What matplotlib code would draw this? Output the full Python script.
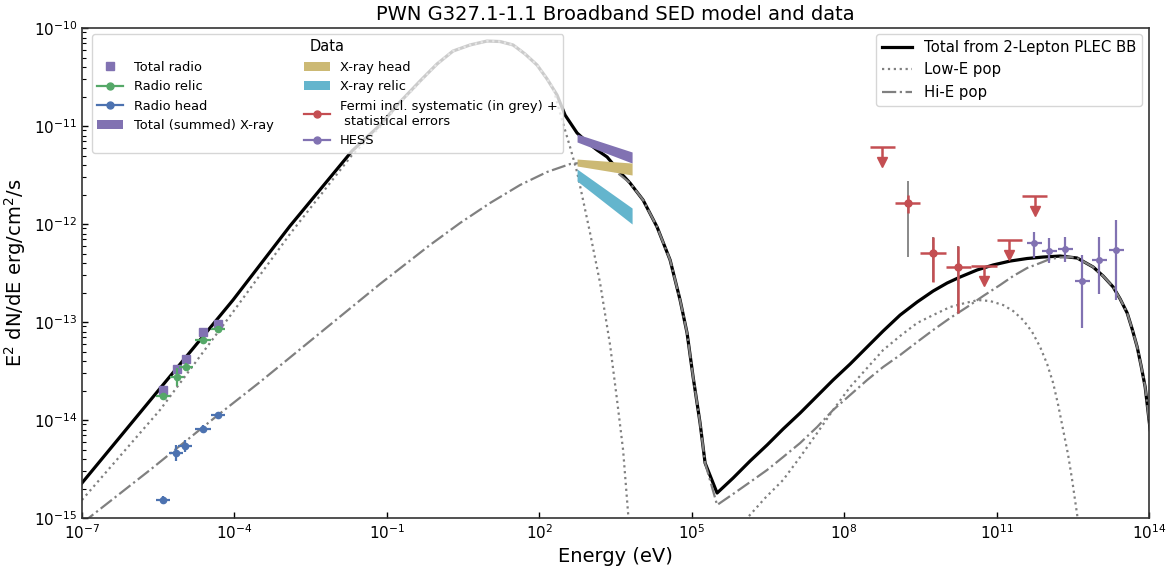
import numpy as np
import matplotlib
matplotlib.use("Agg")
import matplotlib.pyplot as plt
from matplotlib.lines import Line2D
from matplotlib.patches import Patch
from matplotlib.ticker import FixedLocator, NullLocator, LogLocator

# ---------------- model curves: log10(E/eV), log10(E^2 dN/dE / erg cm^-2 s^-1)
total_logE = [-7.0, -4.028, -2.906, -1.685, -1.134, -0.740, -0.346, -0.012, 0.303,
              0.638, 0.972, 1.228, 1.484, 1.720, 1.957, 2.154, 2.350, 2.508, 2.744,
              2.961, 3.138, 3.335, 3.551, 3.787, 4.043, 4.319, 4.575, 4.772, 4.909,
              5.028, 5.165, 5.264, 5.5, 5.815, 6.150, 6.484, 6.799, 7.134, 7.469,
              7.783, 8.118, 8.453, 8.768, 9.102, 9.437, 9.752, 10.028, 10.283,
              10.618, 10.933, 11.268, 11.602, 11.917, 12.252, 12.587, 12.902,
              13.098, 13.295, 13.433, 13.571, 13.669, 13.768, 13.846, 13.925,
              14.024, 14.22]
total_logF = [-14.643, -12.776, -12.020, -11.255, -10.990, -10.755, -10.541, -10.367,
              -10.235, -10.173, -10.133, -10.138, -10.173, -10.265, -10.378, -10.520,
              -10.684, -10.888, -11.071, -11.173, -11.245, -11.316, -11.449, -11.582,
              -11.755, -12.031, -12.367, -12.776, -13.112, -13.561, -14.031, -14.439,
              -14.745, -14.592, -14.418, -14.255, -14.092, -13.929, -13.755, -13.592,
              -13.429, -13.255, -13.092, -12.929, -12.796, -12.684, -12.602, -12.541,
              -12.469, -12.418, -12.378, -12.352, -12.337, -12.327, -12.347, -12.439,
              -12.531, -12.643, -12.765, -12.908, -13.071, -13.255, -13.449, -13.663,
              -14.102, -14.61]

lowE_logE = [-7.0, -5.465, -4.028, -2.906, -1.685, -1.134, -0.740, -0.346, -0.012,
             0.303, 0.638, 0.972, 1.228, 1.484, 1.720, 1.957, 2.154, 2.272, 2.449,
             2.606, 2.744, 2.862, 3.0, 3.197, 3.394, 3.531, 3.650, 3.748, 3.827,
             5.953, 6.110, 6.445, 6.799, 7.134, 7.469, 7.783, 8.118, 8.453, 8.768,
             9.102, 9.437, 9.752, 10.087, 10.382, 10.638, 10.874, 11.130, 11.327,
             11.524, 11.701, 11.858, 11.996, 12.114, 12.213, 12.311, 12.409, 12.488,
             12.587, 12.646]
lowE_logF = [-14.816, -13.898, -12.898, -12.102, -11.296, -11.010, -10.765, -10.551,
             -10.367, -10.235, -10.173, -10.133, -10.138, -10.173, -10.265, -10.378,
             -10.520, -10.612, -10.939, -11.214, -11.469, -11.755, -12.092, -12.602,
             -13.235, -13.796, -14.306, -14.949, -15.429,
             -15.122, -14.990, -14.796, -14.612, -14.378, -14.133, -13.898, -13.663,
             -13.469, -13.286, -13.143, -13.010, -12.929, -12.847, -12.806, -12.776,
             -12.786, -12.827, -12.888, -12.980, -13.102, -13.255, -13.429, -13.622,
             -13.847, -14.102, -14.357, -14.612, -14.969, -15.224]

hiE_logE = [-7.0, -6.843, -5.661, -4.323, -3.496, -2.315, -1.134, -0.150, 0.441,
            1.031, 1.622, 2.154, 2.606, 3.0, 3.394, 3.787, 4.043, 4.319, 4.575,
            4.772, 4.909, 5.028, 5.165, 5.264, 5.5, 5.815, 6.150, 6.484, 6.799,
            7.134, 7.469, 7.783, 8.118, 8.453, 8.768, 9.102, 9.437, 9.752, 10.087,
            10.421, 10.736, 11.071, 11.327, 11.602, 11.858, 12.055, 12.252, 12.449,
            12.587, 12.902, 13.098, 13.295, 13.433, 13.571, 13.669, 13.768, 13.846,
            13.925, 14.024, 14.22]
hiE_logF = [-15.05, -14.990, -14.510, -13.949, -13.612, -13.112, -12.612, -12.214,
            -11.990, -11.786, -11.602, -11.469, -11.388, -11.367, -11.418, -11.582,
            -11.755, -12.031, -12.367, -12.776, -13.112, -13.561, -14.031, -14.439,
            -14.867, -14.755, -14.633, -14.510, -14.378, -14.235, -14.071, -13.898,
            -13.745, -13.592, -13.459, -13.337, -13.204, -13.082, -12.959, -12.847,
            -12.735, -12.622, -12.531, -12.449, -12.398, -12.357, -12.342, -12.337,
            -12.347, -12.439, -12.531, -12.643, -12.765, -12.908, -13.071, -13.255,
            -13.449, -13.663, -14.102, -14.61]

# ---------------- radio data
radio_total_logE = [-5.406, -5.130, -4.953, -4.618, -4.323]
radio_total_logF = [-13.694, -13.480, -13.378, -13.102, -13.020]

relic_logE = [-5.406, -5.130, -4.953, -4.618, -4.323]
relic_logF = [-13.755, -13.561, -13.459, -13.184, -13.071]
relic_dlogF = [0.03, 0.09, 0.04, 0.03, 0.03]

head_logE = [-5.406, -5.150, -4.972, -4.618, -4.323]
head_logF = [-14.816, -14.337, -14.265, -14.092, -13.949]
head_dlogF = [0.04, 0.08, 0.06, 0.04, 0.03]

radio_dlogE = [0.14, 0.14, 0.14, 0.15, 0.14]

# ---------------- X-ray bands (edges at band limits)
xray_logE = [2.744, 3.827]
xray_total_lo = [-11.163, -11.378]
xray_total_hi = [-11.082, -11.265]
xray_head_lo = [-11.408, -11.500]
xray_head_hi = [-11.337, -11.378]
xray_relic_lo = [-11.561, -12.000]
xray_relic_hi = [-11.439, -11.837]

# ---------------- Fermi
fermi_logE = [9.25, 9.75, 10.25]
fermi_logF = [-11.786, -12.296, -12.439]
fermi_stat_lo = [-11.888, -12.592, -12.908]
fermi_stat_hi = [-11.704, -12.133, -12.224]
fermi_sys_lo = [-12.337, -12.592, -12.908]
fermi_sys_hi = [-11.561, -12.133, -12.224]
fermi_ul_logE = [8.75, 10.75, 11.25, 11.75]
fermi_ul_logF = [-11.214, -12.429, -12.163, -11.714]
fermi_dlogE = 0.25

# ---------------- HESS
hess_logE = [11.740, 12.035, 12.350, 12.685, 13.020, 13.354]
hess_logF = [-12.194, -12.276, -12.255, -12.582, -12.367, -12.265]
hess_lo = [-12.347, -12.398, -12.388, -13.061, -12.714, -12.776]
hess_hi = [-12.082, -12.143, -12.133, -12.316, -12.133, -11.959]
hess_dlogE = 0.15

# ---------------- colours
c_blue = "#4C72B0"
c_green = "#55A868"
c_red = "#C44E52"
c_purple = "#8172B2"
c_yellow = "#CCB974"
c_cyan = "#64B5CD"


def p(a):
    return 10.0 ** np.asarray(a, dtype=float)


def xerr_from_dex(logE, dlog):
    E = p(logE)
    d = np.broadcast_to(np.asarray(dlog, dtype=float), E.shape)
    return np.vstack([E - E / 10 ** d, E * 10 ** d - E])


def yerr_from_bounds(logF, lo, hi):
    F = p(logF)
    return np.vstack([F - p(lo), p(hi) - F])


fig = plt.figure(figsize=(11.66, 5.67), dpi=100)
ax = fig.add_axes([0.0703, 0.0864, 0.9151, 0.8642])
ax.set_xscale("log")
ax.set_yscale("log")

# models
l_tot, = ax.plot(p(total_logE), p(total_logF), color="black", lw=2.3)
l_low, = ax.plot(p(lowE_logE), p(lowE_logF), color="grey", ls=":", lw=1.6)
l_hi, = ax.plot(p(hiE_logE), p(hiE_logF), color="grey", ls="-.", lw=1.6)

# radio
ax.plot(p(radio_total_logE), p(radio_total_logF), "s", color=c_purple, ms=5.5, zorder=3)
for lE, lF, dF, col in [(relic_logE, relic_logF, relic_dlogF, c_green),
                        (head_logE, head_logF, head_dlogF, c_blue)]:
    lF_arr = np.asarray(lF)
    dF_arr = np.asarray(dF)
    ax.errorbar(p(lE), p(lF), xerr=xerr_from_dex(lE, radio_dlogE),
                yerr=yerr_from_bounds(lF, lF_arr - dF_arr, lF_arr + dF_arr),
                fmt="o", color=col, ms=4.5, lw=1.6, capsize=0, zorder=4)

# X-ray bands
for lo, hi, col in [(xray_total_lo, xray_total_hi, c_purple),
                    (xray_head_lo, xray_head_hi, c_yellow),
                    (xray_relic_lo, xray_relic_hi, c_cyan)]:
    ax.fill_between(p(xray_logE), p(lo), p(hi), color=col, lw=0, zorder=2)

# Fermi
ax.errorbar(p(fermi_logE), p(fermi_logF),
            yerr=yerr_from_bounds(fermi_logF, fermi_sys_lo, fermi_sys_hi),
            fmt="none", ecolor="grey", lw=1.3, capsize=0, zorder=3)
ax.errorbar(p(fermi_logE), p(fermi_logF), xerr=xerr_from_dex(fermi_logE, fermi_dlogE),
            yerr=yerr_from_bounds(fermi_logF, fermi_stat_lo, fermi_stat_hi),
            fmt="o", color=c_red, ms=5, lw=1.8, capsize=0, zorder=4)
ulE = p(fermi_ul_logE)
ulF = p(fermi_ul_logF)
ax.errorbar(ulE, ulF, xerr=xerr_from_dex(fermi_ul_logE, fermi_dlogE), fmt="none",
            ecolor=c_red, lw=1.8, capsize=0, zorder=4)
ax.vlines(ulE, ulF * 10 ** -0.13, ulF, color=c_red, lw=1.8, zorder=4)
ax.plot(ulE, ulF * 10 ** -0.155, "v", color=c_red, ms=7.5, zorder=4)

# HESS
ax.errorbar(p(hess_logE), p(hess_logF), xerr=xerr_from_dex(hess_logE, hess_dlogE),
            yerr=yerr_from_bounds(hess_logF, hess_lo, hess_hi),
            fmt="o", color=c_purple, ms=4, lw=1.6, capsize=0, zorder=4)

# axes
ax.set_xlim(1e-7, 1e14)
ax.set_ylim(1e-15, 1e-10)
ax.xaxis.set_major_locator(FixedLocator(p([-7, -4, -1, 2, 5, 8, 11, 14])))
ax.xaxis.set_minor_locator(NullLocator())
ax.yaxis.set_major_locator(LogLocator(base=10, numticks=20))
ax.yaxis.set_minor_locator(LogLocator(base=10, subs=tuple(range(2, 10)), numticks=60))
ax.tick_params(which="both", direction="in", labelsize=11)
ax.tick_params(which="major", length=4.5, width=1.0)
ax.tick_params(which="minor", length=3, width=0.8, left=True)
for s in ax.spines.values():
    s.set_color("#333333")
    s.set_linewidth(1.2)

ax.set_title("PWN G327.1-1.1 Broadband SED model and data", fontsize=14)
ax.set_xlabel("Energy (eV)", fontsize=14)
ax.set_ylabel("E$^2$ dN/dE erg/cm$^2$/s", fontsize=14)

# legends
model_leg = ax.legend([l_tot, l_low, l_hi],
                      ["Total from 2-Lepton PLEC BB", "Low-E pop", "Hi-E pop"],
                      loc="upper right", bbox_to_anchor=(0.9934, 0.9878),
                      borderaxespad=0, fontsize=10.7)
ax.add_artist(model_leg)

h = [Line2D([], [], color=c_purple, marker="s", ls="none", ms=5.5),
     Line2D([], [], color=c_green, marker="o", ms=5, lw=1.6),
     Line2D([], [], color=c_blue, marker="o", ms=5, lw=1.6),
     Patch(color=c_purple, lw=0),
     Patch(color=c_yellow, lw=0),
     Patch(color=c_cyan, lw=0),
     Line2D([], [], color=c_red, marker="o", ms=5, lw=1.6),
     Line2D([], [], color=c_purple, marker="o", ms=5, lw=1.6)]
labels = ["Total radio", "Radio relic", "Radio head", "Total (summed) X-ray",
          "X-ray head", "X-ray relic",
          "Fermi incl. systematic (in grey) +\n statistical errors", "HESS"]
ax.legend(h, labels, ncol=2, title="Data", loc="upper left",
          bbox_to_anchor=(0.0094, 0.9878), borderaxespad=0,
          fontsize=9.4, title_fontsize=10.5, columnspacing=2.3)

fig.savefig("out.png", dpi=100)
